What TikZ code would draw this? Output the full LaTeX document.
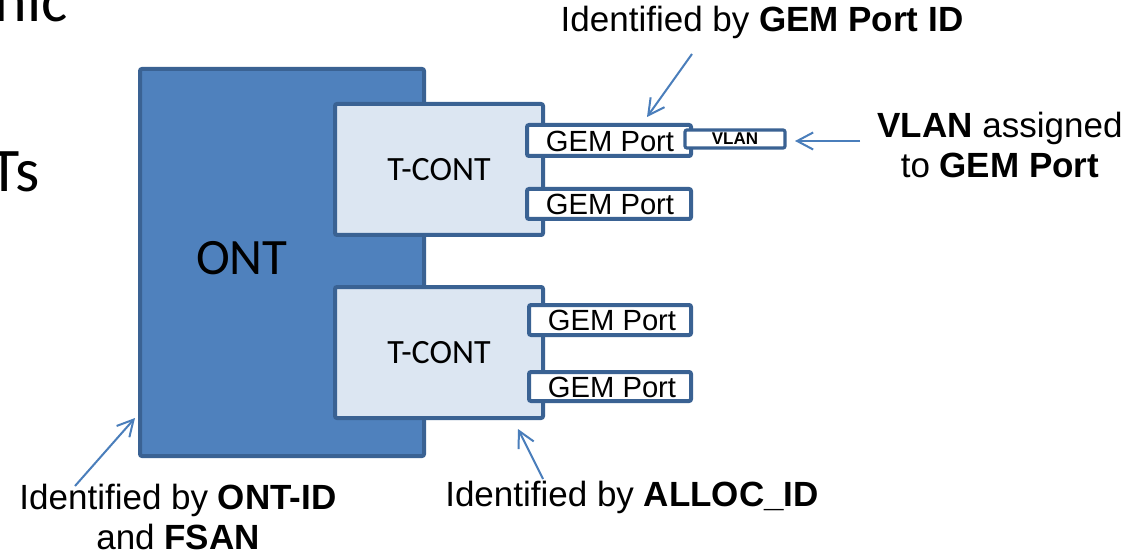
\documentclass[tikz,border=0pt]{standalone}
\usepackage{fontspec}
\setmainfont{Liberation Sans}
\newfontfamily\calibri{Carlito}
\usetikzlibrary{arrows.meta}
\definecolor{ontfill}{HTML}{4F81BD}
\definecolor{boxline}{HTML}{3A6293}
\definecolor{tcfill}{HTML}{DCE6F2}
\definecolor{arrowc}{HTML}{4A7EBB}
\tikzset{
  ontbox/.style={draw=boxline, fill=ontfill, line width=2pt, rounded corners=1pt},
  tcbox/.style={draw=boxline, fill=tcfill, line width=2pt, rounded corners=1pt},
  gembox/.style={draw=boxline, fill=white, line width=2pt, rounded corners=1pt},
  vlanbox/.style={draw=boxline, fill=white, line width=1.6pt, rounded corners=1pt},
  note/.style={font=\fontsize{17.5pt}{20pt}\selectfont, align=center, inner sep=0pt},
  gemtxt/.style={font=\fontsize{14.6pt}{17pt}\selectfont, inner sep=0pt},
  calitxt/.style={font=\calibri\fontsize{#1}{#1}\selectfont, inner sep=0pt},
  callout/.style={draw=arrowc, line width=1pt, -{Straight Barb[length=8pt,width=8.5pt,line width=1pt]}}
}
\begin{document}
\begin{tikzpicture}[x=0.5pt,y=-0.5pt]
\useasboundingbox (0,0) rectangle (1143,555);
\clip (0,0) rectangle (1143,555);
\fill[white] (0,0) rectangle (1143,555);
% slide text fragments
\node[calitxt=31pt, anchor=base east] (frag1) at (68,22) {nic};
\node[calitxt=31pt, anchor=base east] (frag2) at (40,192) {Ts};
% ONT
\draw[ontbox] (140,69) rectangle (424,456);
\node[calitxt=25.5pt] (ont) at (242,258) {ONT};
% T-CONTs
\draw[tcbox] (335,104) rectangle (543,235);
\node[calitxt=17pt] (tc1) at (439,170) {T-CONT};
\draw[tcbox] (335,287) rectangle (543,418);
\node[calitxt=17pt] (tc2) at (439,353) {T-CONT};
% GEM ports
\draw[gembox] (527,125) rectangle (691,156);
\node[gemtxt] (gem1) at (610,141) {GEM Port};
\draw[vlanbox] (685,130) rectangle (785,148);
\node[font=\bfseries\fontsize{8.5pt}{9pt}\selectfont, inner sep=0pt] (vlan) at (735,139) {VLAN};
\draw[gembox] (527,189) rectangle (691,219);
\node[gemtxt] (gem2) at (610,204) {GEM Port};
\draw[gembox] (529,305) rectangle (691,335);
\node[gemtxt] (gem3) at (612,320) {GEM Port};
\draw[gembox] (529,372) rectangle (691,401);
\node[gemtxt] (gem4) at (612,387) {GEM Port};
% annotations
\node[note] (lblgem) at (762,22) {Identified by \textbf{GEM Port ID}};
\node[note] (lblvlan) at (1000,145) {\textbf{VLAN} assigned\\to \textbf{GEM Port}};
\node[note] (lblont) at (178,517) {Identified by \textbf{ONT-ID}\\and \textbf{FSAN}};
\node[note] (lblalloc) at (632,497) {Identified by \textbf{ALLOC\_ID}};
% callout arrows
\coordinate (sgem) at (692,54);
\coordinate (tgem) at (647,117);
\coordinate (svlan) at (860,141);
\coordinate (tvlan) at (795,141);
\coordinate (sont) at (75,486);
\coordinate (tont) at (135,418);
\coordinate (salloc) at (543,479);
\coordinate (talloc) at (518,429);
\draw[callout] (sgem) -- (tgem);
\draw[callout] (svlan) -- (tvlan);
\draw[callout] (sont) -- (tont);
\draw[callout] (salloc) -- (talloc);
\end{tikzpicture}
\end{document}
